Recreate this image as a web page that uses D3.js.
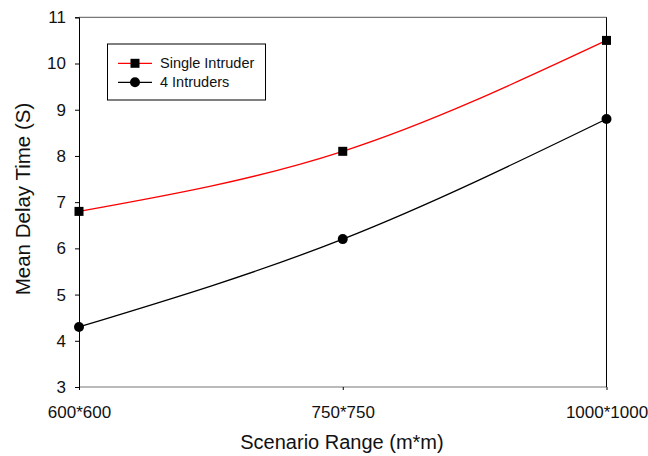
<!DOCTYPE html>
<html>
<head>
<meta charset="utf-8">
<script src="https://cdn.jsdelivr.net/npm/d3@7"></script>
<style>
  body { margin: 0; background: #fff; }
  svg { display: block; font-family: "Liberation Sans", Arial, sans-serif; }
</style>
</head>
<body>
<svg id="chart" width="648" height="456"></svg>
<script>
var categories = ["600*600", "750*750", "1000*1000"];
var singleIntruder = [6.8, 8.1, 10.5];
var fourIntruders = [4.3, 6.2, 8.8];
var yTicks = [3, 4, 5, 6, 7, 8, 9, 10, 11];
var seriesNames = ["Single Intruder", "4 Intruders"];

var svg = d3.select("#chart");
var plotLeft = 79, plotRight = 606.5, plotTop = 17.3, plotBottom = 387;

var x = d3.scalePoint().domain(categories).range([plotLeft, plotRight]);
var y = d3.scaleLinear().domain([3, 11]).range([plotBottom, plotTop]);

// frame: top/bottom grey, left/right black
svg.append("line").attr("x1", plotLeft).attr("x2", plotRight).attr("y1", plotTop).attr("y2", plotTop)
  .attr("stroke", "#777").attr("stroke-width", 1.2);
svg.append("line").attr("x1", plotLeft).attr("x2", plotRight).attr("y1", plotBottom).attr("y2", plotBottom)
  .attr("stroke", "#777").attr("stroke-width", 1.2);
svg.append("line").attr("x1", plotRight).attr("x2", plotRight).attr("y1", plotTop).attr("y2", plotBottom)
  .attr("stroke", "#000").attr("stroke-width", 1);

// y axis
var yAxis = d3.axisLeft(y).tickValues(yTicks).tickSize(4).tickPadding(9);
var gy = svg.append("g").attr("transform", "translate(" + plotLeft + ",0)").call(yAxis);
gy.select(".domain").attr("stroke", "#000").attr("stroke-width", 1);
gy.selectAll(".tick line").attr("stroke", "#000");
gy.selectAll(".tick text").attr("font-size", 17).attr("font-family", "Liberation Sans, Arial, sans-serif").attr("fill", "#111");

// x axis
var xAxis = d3.axisBottom(x).tickSize(3).tickPadding(16);
var gx = svg.append("g").attr("transform", "translate(0," + plotBottom + ")").call(xAxis);
gx.select(".domain").remove();
gx.selectAll(".tick line").attr("stroke", "#000");
gx.selectAll(".tick text").attr("font-size", 17).attr("font-family", "Liberation Sans, Arial, sans-serif").attr("fill", "#111");

// titles
svg.append("text").attr("x", 342).attr("y", 449).attr("text-anchor", "middle")
  .attr("font-size", 20).attr("fill", "#111").text("Scenario Range (m*m)");
svg.append("text").attr("transform", "translate(30,199) rotate(-90)").attr("text-anchor", "middle")
  .attr("font-size", 20.5).attr("fill", "#111").text("Mean Delay Time (S)");

var line = d3.line()
  .x(function(d, i) { return x(categories[i]); })
  .y(function(d) { return y(d); })
  .curve(d3.curveNatural);

svg.append("path").datum(singleIntruder).attr("d", line)
  .attr("fill", "none").attr("stroke", "#f00").attr("stroke-width", 1.3);
svg.append("path").datum(fourIntruders).attr("d", line)
  .attr("fill", "none").attr("stroke", "#000").attr("stroke-width", 1.3);

svg.selectAll(".sq").data(singleIntruder).enter().append("rect")
  .attr("x", function(d, i) { return x(categories[i]) - 4.5; })
  .attr("y", function(d) { return y(d) - 4.5; })
  .attr("width", 9).attr("height", 9).attr("fill", "#000");
svg.selectAll(".ci").data(fourIntruders).enter().append("circle")
  .attr("cx", function(d, i) { return x(categories[i]); })
  .attr("cy", function(d) { return y(d); })
  .attr("r", 5).attr("fill", "#000");

// legend
var lg = svg.append("g");
lg.append("rect").attr("x", 107.5).attr("y", 44).attr("width", 158).attr("height", 56)
  .attr("fill", "#fff").attr("stroke", "#000").attr("stroke-width", 1);
var rows = [63.3, 82.3];
var colors = ["#f00", "#000"];
seriesNames.forEach(function(name, i) {
  lg.append("line").attr("x1", 118).attr("x2", 152).attr("y1", rows[i]).attr("y2", rows[i])
    .attr("stroke", colors[i]).attr("stroke-width", 1.3);
  if (i === 0) {
    lg.append("rect").attr("x", 130.5).attr("y", rows[i] - 4.5).attr("width", 9).attr("height", 9).attr("fill", "#000");
  } else {
    lg.append("circle").attr("cx", 135).attr("cy", rows[i]).attr("r", 5).attr("fill", "#000");
  }
  lg.append("text").attr("x", 160).attr("y", rows[i] + 5).attr("font-size", 14.5).attr("fill", "#111").text(name);
});
</script>
</body>
</html>
